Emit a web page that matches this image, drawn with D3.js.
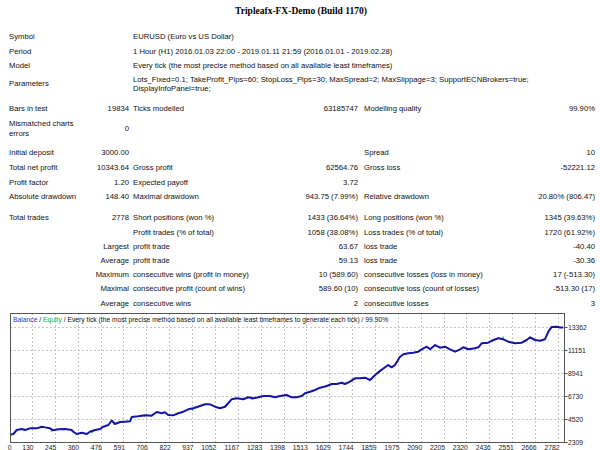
<!DOCTYPE html>
<html><head><meta charset="utf-8">
<script src="https://cdn.jsdelivr.net/npm/d3@7/dist/d3.min.js"></script>
<style>html,body{margin:0;padding:0;background:#fff;}svg{display:block;}</style>
</head><body>
<svg id="c" width="600" height="450"></svg>
<script>
// ---------- DATA ----------
const title = "Tripleafx-FX-Demo (Build 1170)";
const headerLabels = ["Symbol", "Period", "Model", "Parameters"];
const headerValues = [
  "EURUSD (Euro vs US Dollar)",
  "1 Hour (H1) 2016.01.03 22:00 - 2019.01.11 21:59 (2016.01.01 - 2019.02.28)",
  "Every tick (the most precise method based on all available least timeframes)"
];
const paramLines = [
  "Lots_Fixed=0.1; TakeProfit_Pips=60; StopLoss_Pips=30; MaxSpread=2; MaxSlippage=3; SupportECNBrokers=true;",
  "DisplayInfoPanel=true;"
];
const mismatchLabel = ["Mismatched charts", "errors"];
const mismatchValue = "0";
// [label, value, label, value, label, value]
const statRows = [
  ["Bars in test", "19834", "Ticks modelled", "63185747", "Modelling quality", "99.90%"],
  ["Initial deposit", "3000.00", "", "", "Spread", "10"],
  ["Total net profit", "10343.64", "Gross profit", "62564.76", "Gross loss", "-52221.12"],
  ["Profit factor", "1.20", "Expected payoff", "3.72", "", ""],
  ["Absolute drawdown", "148.40", "Maximal drawdown", "943.75 (7.99%)", "Relative drawdown", "20.80% (806.47)"],
  ["Total trades", "2778", "Short positions (won %)", "1433 (36.64%)", "Long positions (won %)", "1345 (39.63%)"],
  ["", "", "Profit trades (% of total)", "1058 (38.08%)", "Loss trades (% of total)", "1720 (61.92%)"],
  ["", "Largest", "profit trade", "63.67", "loss trade", "-40.40"],
  ["", "Average", "profit trade", "59.13", "loss trade", "-30.36"],
  ["", "Maximum", "consecutive wins (profit in money)", "10 (589.60)", "consecutive losses (loss in money)", "17 (-513.30)"],
  ["", "Maximal", "consecutive profit (count of wins)", "589.60 (10)", "consecutive loss (count of losses)", "-513.30 (17)"],
  ["", "Average", "consecutive wins", "2", "consecutive losses", "3"]
];
const legendParts = ["Balance", " / ", "Equity", " / Every tick (the most precise method based on all available least timeframes to generate each tick) / 99.90%"];

const xTicks = [0,130,245,360,476,591,706,822,937,1052,1167,1283,1398,1513,1629,1744,1859,1975,2090,2205,2320,2436,2551,2666,2782];
const yTicks = [2309, 4520, 6730, 8941, 11151, 13362];

const trades = [0,36,53,78,95,120,154,179,195,221,237,263,296,330,338,355,381,406,422,448,473,489,515,532,548,574,599,624,633,666,700,733,759,784,800,817,842,868,893,918,943,977,1002,1027,1053,1078,1103,1119,1136,1162,1195,1220,1246,1271,1296,1330,1355,1380,1414,1439,1464,1490,1506,1532,1557,1582,1616,1641,1666,1691,1708,1733,1758,1784,1809,1834,1851,1868,1885,1910,1926,1943,1960,1985,2002,2027,2052,2077,2103,2120,2137,2162,2187,2212,2237,2263,2288,2304,2330,2363,2380,2397,2430,2456,2481,2506,2531,2565,2599,2624,2641,2666,2691,2716,2733,2750,2775,2792,2808];
const balance = [3000,3080,3465,3562,3465,3625,3625,3783,3720,3625,3435,3530,3560,3465,3300,3080,3205,3080,3300,3465,3560,3783,3947,4380,4044,4236,4268,4300,4718,4783,4880,4850,5200,5075,5170,4910,4880,5075,5230,5460,5556,5778,5942,5942,5711,5556,5711,6038,6424,6520,6424,6617,6520,6617,6742,6742,6617,6742,6838,6617,6617,6742,7000,7156,7320,7541,7705,7898,7898,8023,7898,8120,8447,8447,8505,8284,8602,8900,9160,9507,9729,9507,9729,10529,10760,10856,10915,11011,11339,11493,11242,11656,11396,11493,11242,11011,11242,11435,11242,11339,11435,11820,11878,12138,12302,12205,11974,11820,11878,12138,12398,12138,12070,12205,12938,13400,13420,13350,13344];
// equity excursions: trade, from (balance level), to (equity level)
const eqTrades = [229, 433, 695, 940, 1239, 1986, 2505];
const eqFrom   = [3560, 3400, 4880, 5500, 6600, 10600, 12250];
const eqTo     = [3300, 3150, 4747, 5330, 6356, 10430, 12470];

// ---------- LAYOUT ----------
const svg = d3.select("#c");
const FONT = "'Liberation Sans', Arial, sans-serif";
const fs = 7.7;
const col = {c0: 9, c1: 129, c2: 133, c3: 358, c4: 364, c5: 595};

svg.append("rect").attr("width",600).attr("height",450).attr("fill","#fff");

svg.append("text").attr("x",301).attr("y",13.5).attr("text-anchor","middle")
  .attr("font-family","'Liberation Serif', 'Times New Roman', serif").attr("font-weight","bold")
  .attr("font-size",9.5).attr("fill","#000").text(title);

const T = svg.append("g").attr("font-family",FONT).attr("font-size",fs).attr("fill","#111");
function txt(x,y,s,anchor){ if(!s) return; T.append("text").attr("x",x).attr("y",y).attr("text-anchor",anchor||"start").text(s); }

const headerY = [39, 53.5, 68, 86];
headerLabels.forEach((l,i)=>txt(col.c0, headerY[i], l));
headerValues.forEach((v,i)=>txt(col.c2, headerY[i], v));
const paramY = [81.8, 91];
paramLines.forEach((p,i)=>txt(col.c2, paramY[i], p));

const rowY = [111, 155, 169.5, 184.5, 198.8, 220, 234.5, 248.7, 262.9, 277.1, 291.3, 305.8];
statRows.forEach((r,i)=>{
  const y = rowY[i];
  txt(col.c0,y,r[0]); txt(col.c1,y,r[1],"end"); txt(col.c2,y,r[2]);
  txt(col.c3,y,r[3],"end"); txt(col.c4,y,r[4]); txt(col.c5,y,r[5],"end");
});
txt(col.c0,126,mismatchLabel[0]); txt(col.c0,135.5,mismatchLabel[1]);
txt(col.c1,130.5,mismatchValue,"end");

// ---------- CHART ----------
const L=10, R=564, TOP=313, BOT=442;
const x = d3.scaleLinear().domain([19, 2812]).range([L, R]).clamp(true);
const y = d3.scaleLinear().domain([2309, 13362]).range([BOT, 327.3]);

const ch = svg.append("g");
// gridlines
ch.selectAll("line.vg").data(xTicks.filter(d=>d>0)).enter().append("line")
  .attr("x1",d=>Math.round(x(d))+0.5).attr("x2",d=>Math.round(x(d))+0.5)
  .attr("y1",TOP).attr("y2",BOT).attr("stroke","#c4c4c4").attr("stroke-dasharray","2,2");
ch.selectAll("line.hg").data(yTicks.filter(d=>d>2309)).enter().append("line")
  .attr("x1",L).attr("x2",R).attr("y1",d=>Math.round(y(d))+0.5).attr("y2",d=>Math.round(y(d))+0.5)
  .attr("stroke","#c4c4c4").attr("stroke-dasharray","2,2");

// equity
ch.selectAll("line.eq").data(eqTrades).enter().append("line")
  .attr("x1",d=>x(d)).attr("x2",d=>x(d))
  .attr("y1",(d,i)=>y(eqFrom[i])).attr("y2",(d,i)=>y(eqTo[i]))
  .attr("stroke","#2ecc2e").attr("stroke-width",1.5);

// balance
const pts = trades.map((t,i)=>[t, balance[i]]);
ch.append("path").datum(pts)
  .attr("d", d3.line().x(d=>x(d[0])).y(d=>y(d[1])))
  .attr("fill","none").attr("stroke","#1414a8").attr("stroke-width",2).attr("stroke-linejoin","round");

// frame
ch.append("rect").attr("x",L+0.5).attr("y",TOP+0.5).attr("width",R-L).attr("height",BOT-TOP)
  .attr("fill","none").attr("stroke","#555");

// y axis
const ya = ch.append("g").attr("font-family",FONT).attr("font-size",6.8).attr("fill","#222");
yTicks.forEach(v=>{
  ya.append("line").attr("x1",R+0.5).attr("x2",R+3.5).attr("y1",Math.round(y(v))+0.5).attr("y2",Math.round(y(v))+0.5).attr("stroke","#555");
  ya.append("text").attr("x",R+4).attr("y",y(v)+2.5).text(v);
});
// x axis
xTicks.forEach(v=>{
  ya.append("text").attr("x",x(v)+1.5).attr("y",449.5).attr("text-anchor","end").text(v);
});

// legend
const lg = ch.append("text").attr("x",13).attr("y",322).attr("font-family",FONT).attr("font-size",6.75).attr("fill","#111");
const legendColors = ["#3030c8", "#111", "#22b022", "#111"];
legendParts.forEach((p,i)=>lg.append("tspan").attr("fill",legendColors[i]).attr("xml:space","preserve").text(p));
</script>
</body></html>
